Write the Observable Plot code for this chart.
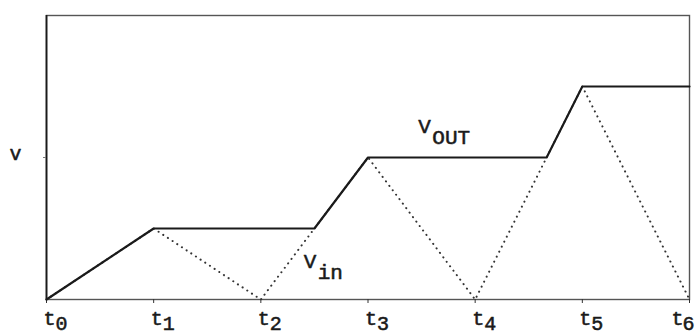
<!DOCTYPE html>
<html>
<head>
<meta charset="utf-8">
<script src="https://cdn.jsdelivr.net/npm/d3@7"></script>
<script src="https://cdn.jsdelivr.net/npm/@observablehq/plot@0.6"></script>
<style>
  body { margin: 0; background: #fff; }
</style>
</head>
<body>
<div id="chart"></div>
<script>
// Sampling instants t0 … t6 and their subscripts
const times = [0, 1, 2, 3, 4, 5, 6];
const tickSubs = ["0", "1", "2", "3", "4", "5", "6"];

// Triangular input voltage at each instant
const vin = [0, 1, 0, 2, 0, 3, 0];

// Peak-held output: break points (time) and held levels
const voutTimes = [0, 1, 2.5, 3, 4.6667, 5, 6];
const voutLevels = [0, 1, 1, 2, 2, 3, 3];

// Curve labels: anchor (time, level), main letter, subscript
const labelX = [3.47, 2.40];
const labelY = [2.34, 0.45];
const labelBase = ["V", "V"];
const labelSub = ["OUT", "in"];

const vinData = times.map((t, i) => ({t, v: vin[i]}));
const voutData = voutTimes.map((t, i) => ({t, v: voutLevels[i]}));
const labels = labelX.map((x, i) => ({x, y: labelY[i], base: labelBase[i], sub: labelSub[i]}));
const tickData = times.map((t, i) => ({t, sub: tickSubs[i], last: i === times.length - 1}));

const font = "'Liberation Mono', 'Courier New', monospace";
const ink = "#1a1a1a";
// typewriter-weight lettering: regular face with a thin outline
const type = {fill: ink, stroke: ink, strokeWidth: 0.55};

const chart = Plot.plot({
  width: 696,
  height: 334,
  marginLeft: 46,
  marginRight: 7,
  marginTop: 15,
  marginBottom: 35,
  x: {domain: [0, 6]},
  y: {domain: [0, 4]},
  style: {fontFamily: font, fontSize: "20px", color: ink, background: "#fff", overflow: "visible"},
  marks: [
    Plot.frame({stroke: "#555", strokeWidth: 1.4}),
    Plot.ruleX([0], {stroke: ink, strokeWidth: 1.8}),
    Plot.axisX({ticks: times, tickSize: 4, tickFormat: () => "", label: null, stroke: "#333"}),
    Plot.axisY({ticks: [2], tickSize: 3, tickFormat: () => "", label: null, stroke: "#777"}),
    // input waveform (dotted)
    Plot.line(vinData, {x: "t", y: "v", stroke: "#333", strokeWidth: 2, strokeDasharray: "0.1,5.5", strokeLinecap: "round"}),
    // held output (solid)
    Plot.line(voutData, {x: "t", y: "v", stroke: ink, strokeWidth: 2.2}),
    // tick labels t with subscripts
    Plot.text(tickData.filter(d => !d.last), {x: "t", y: () => 0, text: () => "t", textAnchor: "start", lineAnchor: "bottom", dx: -3, dy: 25, ...type}),
    Plot.text(tickData.filter(d => !d.last), {x: "t", y: () => 0, text: "sub", textAnchor: "start", lineAnchor: "bottom", dx: 9, dy: 30, ...type}),
    // the last label is pulled left to stay inside the page
    Plot.text(tickData.filter(d => d.last), {x: "t", y: () => 0, text: () => "t", textAnchor: "start", lineAnchor: "bottom", dx: -18, dy: 25, ...type}),
    Plot.text(tickData.filter(d => d.last), {x: "t", y: () => 0, text: "sub", textAnchor: "start", lineAnchor: "bottom", dx: -7, dy: 30, ...type}),
    // vertical axis name
    Plot.text(["v"], {frameAnchor: "left", text: d => d, textAnchor: "middle", dx: -31, dy: -4, ...type}),
    // curve labels
    Plot.text(labels, {x: "x", y: "y", text: "base", textAnchor: "start", lineAnchor: "bottom", fontSize: 21, ...type}),
    Plot.text(labels, {x: "x", y: "y", text: "sub", textAnchor: "start", lineAnchor: "bottom", fontSize: 21, dx: 14, dy: 11, ...type})
  ]
});

document.getElementById("chart").append(chart);
</script>
</body>
</html>
